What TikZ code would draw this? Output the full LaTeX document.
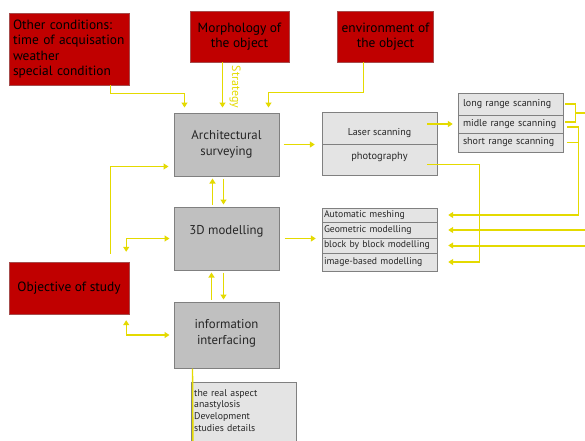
\documentclass[tikz,border=0pt]{standalone}
\usepackage{fontspec}
\setmainfont{PT Sans}
\usepackage{tikz}
\usetikzlibrary{positioning,arrows.meta}

\definecolor{redfill}{RGB}{192,0,0}
\definecolor{greyfill}{RGB}{192,192,192}
\definecolor{lightfill}{RGB}{228,228,228}
\definecolor{yel}{RGB}{228,218,0}

\begin{document}
\begin{tikzpicture}[x=1pt,y=-1pt,
  >={Triangle[length=5pt,width=6pt]},
  redfield/.style={draw=red!50!black!70, fill=redfill, text=black, font=\fontsize{13.4}{15.5}\selectfont, inner sep=4pt},
  greyfield/.style={draw=black!50, line width=1pt, fill=greyfill, text=black!85, font=\fontsize{12.8}{16}\selectfont, minimum width=105pt, minimum height=63pt, align=center},
  listfield/.style={draw=black!50, fill=lightfill, text=black!85, font=\fontsize{10}{12}\selectfont},
  scanrow/.style={listfield, minimum width=105pt, text width=95pt, align=left, inner xsep=5pt, inner ysep=0pt},
  modrow/.style={listfield, minimum width=115pt, text width=111pt, align=left, inner xsep=2pt, inner ysep=0pt, font=\fontsize{9.7}{12}\selectfont},
  link/.style={draw=yel, line width=1.4pt, ->, shorten >=5pt},
  link0/.style={draw=yel, line width=1.4pt}]
\useasboundingbox (0,0) rectangle (585,440);
\clip (0,0) rectangle (585,440);

% red input boxes
\node[redfield, minimum width=120pt, minimum height=72pt, text width=112pt, align=left] at (69,49) (other) {Other conditions:\\time of acquisation\\weather\\special condition};
\node[redfield, minimum width=99pt, minimum height=51pt, align=center] at (239.5,36.5) (morph) {Morphology of\\the object};
\node[redfield, minimum width=91pt, minimum height=51pt, align=center] at (385.5,36.5) (env) {environment of\\the object};
\node[redfield, minimum width=120pt, minimum height=52pt] at (69,288) (obj) {Objective of study};

% main steps
\node[greyfield] at (226.5,144.5) (arch) {Architectural\\surveying};
\node[greyfield, text height=9pt, text depth=18pt] at (226.5,238.5) (model) {3D modelling};
\node[greyfield, minimum height=66pt] at (226.5,335) (info) {information\\interfacing\\[-10pt]};

% methods
\node[listfield, minimum width=115pt, minimum height=32pt, text height=14pt, text depth=0pt] at (379.5,128) (laser) {Laser scanning};
\node[listfield, minimum width=115pt, minimum height=31pt, font=\fontsize{10.4}{12}\selectfont, text height=6pt, text depth=6pt] at (379.5,159.5) (photo) {photography};

\node[scanrow, minimum height=22pt] at (510.5,104) (long) {long range scanning};
\node[scanrow, minimum height=18pt] at (510.5,124) (mid) {midle range scanning};
\node[scanrow, minimum height=19pt] at (510.5,142.5) (short) {short range scanning};

\node[modrow, minimum height=14pt] at (379.5,215) (auto) {Automatic meshing};
\node[modrow, minimum height=16pt] at (379.5,230) (geo) {Geometric modelling};
\node[modrow, minimum height=15pt] at (379.5,245.5) (block) {block by block modelling};
\node[modrow, minimum height=18pt] at (379.5,262) (image) {image-based modelling};

\node[listfield, anchor=north west, minimum width=105pt, text width=99pt, align=left, font=\fontsize{9.8}{11.7}\selectfont, inner xsep=3pt, inner ysep=7pt] at (191,382) (ctx) {the real aspect\\anastylosis\\Development\\studies details\\\mbox{}};

% inputs
\draw[link] ([xshift=-19pt]other.south east) -- ++(0,8) -| ([xshift=11pt]arch.north west);
\draw[link] ([xshift=-4pt]arch.north |- morph.south) -- ([xshift=-4pt]arch.north);
\node[text=yel, rotate=-90, font=\fontsize{12}{14}\selectfont] at (235,87) (strategy) {Strategy};
\draw[link] ([xshift=-22pt]env.south) -- ++(0,30) -| ([xshift=-11pt]arch.north east);

% between steps
\draw[link, shorten <=2pt, shorten >=2pt] ([xshift=-14pt]model.north) -- ([xshift=-14pt]arch.south);
\draw[link, shorten <=2pt, shorten >=2pt] ([xshift=-3pt]arch.south) -- ([xshift=-3pt]model.north);
\draw[link, shorten <=2pt, shorten >=2pt] ([xshift=-15pt]info.north) -- ([xshift=-15pt]model.south);
\draw[link, shorten <=2pt, shorten >=2pt] ([xshift=-3pt]model.south) -- ([xshift=-3pt]info.north);

% objective
\draw[link] ([xshift=-19pt,yshift=8pt]obj.north east) |- ([yshift=10pt]arch.south west);
\draw[link, <->, shorten <=10pt, shorten >=4pt] ([xshift=-3pt]obj.north east) |- (model.west);
\draw[link, <->, shorten <=6pt, shorten >=4pt] ([xshift=-3pt]obj.south east) |- (info.west);

% methods links
\draw[link, shorten <=4pt, shorten >=7pt] (arch.east) -- (arch.east -| laser.west);
\draw[link] ([xshift=-10pt]mid.west -| laser.east) -- (mid.west);
\draw[link0] ([xshift=2pt]long.east) -- ++(10,0) |- ([xshift=2pt,yshift=2pt]mid.east);
\coordinate (offA) at (590,113);
\draw[link0] ([xshift=12pt,yshift=-9pt]long.east) -- (offA);
\draw[link, shorten >=11pt] ([xshift=4pt,yshift=-3pt]mid.east) -- ++(11,0) |- (auto.east);
\draw[link0] ([xshift=4pt]short.east) -- ++(11,0);
\coordinate (offB) at (590,0);
\draw[link, shorten >=11pt] (offB |- geo.east) -- (geo.east);
\draw[link, line width=2pt, shorten >=11pt] (offB |- block.east) -- (block.east);
\draw[link, shorten >=11pt] ([xshift=-10pt,yshift=-5pt]photo.east) -- ++(52,0) |- (image.east);
\draw[link, shorten <=5pt, shorten >=6pt] (model.east) -- (model.east -| auto.west);

% output
\coordinate (offC) at (193,450);
\draw[link0] ([xshift=19pt]info.south west) -- (offC);
\end{tikzpicture}
\end{document}
